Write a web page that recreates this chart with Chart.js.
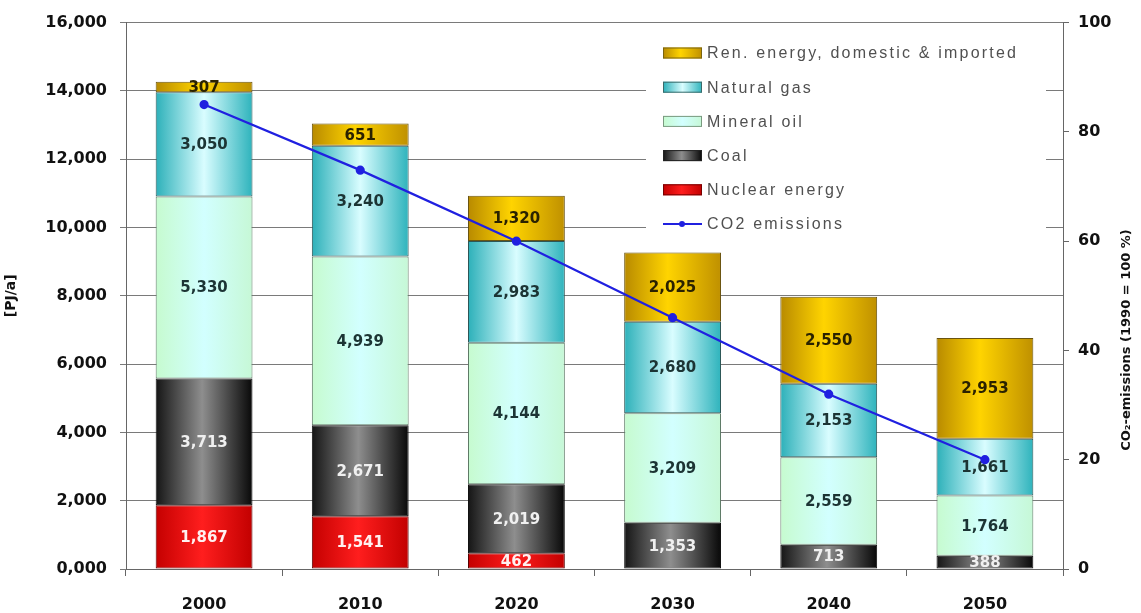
<!DOCTYPE html>
<html>
<head>
<meta charset="utf-8">
<title>Primary energy and CO2 emissions</title>
<script src="https://cdn.jsdelivr.net/npm/chart.js@4.4.0/dist/chart.umd.min.js"></script>
<style>
  html, body { margin: 0; padding: 0; background: #fff; }
  #wrap { width: 1141px; height: 613px; }
</style>
</head>
<body>
<div id="wrap"><canvas id="energyChart" width="1141" height="613"></canvas></div>
<script>
// --- Data ---
const years = ['2000', '2010', '2020', '2030', '2040', '2050'];
const nuclear = [1867, 1541, 462, 0, 0, 0];
const coal = [3713, 2671, 2019, 1353, 713, 388];
const mineralOil = [5330, 4939, 4144, 3209, 2559, 1764];
const naturalGas = [3050, 3240, 2983, 2680, 2153, 1661];
const renewables = [307, 651, 1320, 2025, 2550, 2953];
const co2 = [85, 73, 60, 46, 32, 20];

const leftTicks = ['0,000', '2,000', '4,000', '6,000', '8,000', '10,000', '12,000', '14,000', '16,000'];
const rightTicks = ['0', '20', '40', '60', '80', '100'];

const BAR_PCT = 0.62;

// --- Colours (horizontal shading per series) ---
const shades = {
  renewables: [[0, '#b88a00'], [0.45, '#ffd400'], [1, '#bf9000']],
  gas: [[0, '#2cb0b9'], [0.5, '#d9fdff'], [1, '#2eb3bc']],
  oil: [[0, '#c6fbcf'], [0.5, '#d2ffff'], [1, '#c6f8d6']],
  coal: [[0, '#151515'], [0.48, '#8e8e8e'], [1, '#080808']],
  nuclear: [[0, '#c40000'], [0.48, '#ff1e1e'], [1, '#c20000']]
};

function makeGradient(ctx, x0, x1, stops) {
  const g = ctx.createLinearGradient(x0, 0, x1, 0);
  stops.forEach(([o, c]) => g.addColorStop(o, c));
  return g;
}

function barFill(stops) {
  return (context) => {
    const chart = context.chart;
    const x = chart.scales.x;
    if (!chart.chartArea || !x || context.dataIndex === undefined) return stops[1][1];
    const cx = x.getPixelForValue(context.dataIndex);
    const w = (x.getPixelForValue(1) - x.getPixelForValue(0)) * BAR_PCT;
    return makeGradient(chart.ctx, cx - w / 2, cx + w / 2, stops);
  };
}

// --- Legend entries ---
const legendItems = [
  { text: 'Ren. energy, domestic & imported', stops: shades.renewables, border: '#7a6410' },
  { text: 'Natural gas', stops: shades.gas, border: '#3a6a6a' },
  { text: 'Mineral oil', stops: shades.oil, border: '#7a9a80' },
  { text: 'Coal', stops: shades.coal, border: '#222' },
  { text: 'Nuclear energy', stops: shades.nuclear, border: '#700' },
  { text: 'CO2 emissions', line: '#2020e0' }
];

// white legend box inside the plot, drawn over the grid
const legendBox = {
  id: 'legendBox',
  beforeDatasetsDraw(chart) {
    const ctx = chart.ctx;
    ctx.save();
    ctx.fillStyle = '#fff';
    ctx.fillRect(646, 33, 400, 208);
    legendItems.forEach((item, i) => {
      const y = 53 + i * 34.2;
      if (item.line) {
        ctx.strokeStyle = item.line;
        ctx.lineWidth = 2;
        ctx.beginPath();
        ctx.moveTo(663, y);
        ctx.lineTo(702, y);
        ctx.stroke();
        ctx.fillStyle = item.line;
        ctx.beginPath();
        ctx.arc(682, y, 3, 0, Math.PI * 2);
        ctx.fill();
      } else {
        ctx.fillStyle = makeGradient(ctx, 663, 702, item.stops);
        ctx.fillRect(663, y - 5.5, 39, 11);
        ctx.strokeStyle = item.border;
        ctx.lineWidth = 1;
        ctx.strokeRect(663.5, y - 5, 38, 10);
      }
      ctx.fillStyle = '#505050';
      ctx.font = '16px "Liberation Sans", Arial, sans-serif';
      ctx.textAlign = 'left';
      ctx.textBaseline = 'middle';
      ctx.letterSpacing = '2.2px';
      ctx.fillText(item.text, 707, y + 1);
      ctx.letterSpacing = '0px';
    });
    ctx.restore();
  }
};

// value printed in the middle of each stacked segment
const segmentLabels = {
  id: 'segmentLabels',
  afterDatasetDraw(chart, args) {
    const ds = chart.data.datasets[args.index];
    if (ds.type === 'line') return;
    const meta = args.meta;
    const ctx = chart.ctx;
    ctx.save();
    ctx.font = 'bold 15px "DejaVu Sans", sans-serif';
    ctx.textAlign = 'center';
    ctx.textBaseline = 'middle';
    ctx.fillStyle = ds.labelColor;
    meta.data.forEach((bar, i) => {
      const v = ds.data[i];
      if (!v) return;
      ctx.fillText(v.toLocaleString('en-US'), bar.x, (bar.y + bar.base) / 2 + 1);
    });
    ctx.restore();
  }
};

// rotated title for the right-hand axis
const rightTitle = {
  id: 'rightTitle',
  afterDraw(chart) {
    const ctx = chart.ctx;
    ctx.save();
    ctx.translate(1127, 340);
    ctx.rotate(-Math.PI / 2);
    ctx.font = 'bold 13px "DejaVu Sans", sans-serif';
    ctx.fillStyle = '#111';
    ctx.textAlign = 'center';
    ctx.textBaseline = 'middle';
    ctx.fillText('CO\u2082-emissions (1990 = 100 %)', 0, 0);
    ctx.restore();
  }
};

function barSet(label, data, stops, border, labelColor) {
  return {
    type: 'bar',
    label,
    data,
    backgroundColor: barFill(stops),
    borderColor: border,
    borderWidth: 1,
    borderSkipped: false,
    labelColor,
    stack: 'energy',
    yAxisID: 'y',
    order: 1,
    categoryPercentage: 1,
    barPercentage: BAR_PCT
  };
}

const tickFont = { family: '"DejaVu Sans", sans-serif', size: 16, weight: 'bold' };

new Chart(document.getElementById('energyChart'), {
  data: {
    labels: years,
    datasets: [
      barSet('Nuclear energy', nuclear, shades.nuclear, '#5a0000', '#fff0f0'),
      barSet('Coal', coal, shades.coal, '#111', '#f0f0f0'),
      barSet('Mineral oil', mineralOil, shades.oil, '#5e7a66', '#1c3434'),
      barSet('Natural gas', naturalGas, shades.gas, '#2c5656', '#1c3434'),
      barSet('Ren. energy, domestic & imported', renewables, shades.renewables, '#6a5410', '#2a2200'),
      {
        type: 'line',
        label: 'CO2 emissions',
        data: co2,
        yAxisID: 'y1',
        borderColor: '#2020e0',
        backgroundColor: '#2020e0',
        borderWidth: 2.2,
        pointRadius: 3.5,
        pointHoverRadius: 3.5,
        tension: 0,
        order: 0
      }
    ]
  },
  options: {
    responsive: false,
    animation: false,
    layout: { padding: { top: 19, right: 0, bottom: 0, left: 0 } },
    plugins: {
      legend: { display: false },
      tooltip: { enabled: false }
    },
    scales: {
      x: {
        stacked: true,
        afterFit: (s) => { s.height = 44; },
        grid: { offset: true, drawOnChartArea: false, drawTicks: true, tickLength: 7, color: '#666' },
        border: { color: '#666', width: 1 },
        ticks: { color: '#111', font: tickFont, padding: 19 }
      },
      y: {
        stacked: true,
        position: 'left',
        min: 0,
        max: 16000,
        afterFit: (s) => { s.width = 126; },
        grid: { color: '#7a7a7a', lineWidth: 1, tickLength: 6 },
        border: { color: '#666', width: 1 },
        ticks: {
          stepSize: 2000,
          color: '#111',
          font: tickFont,
          padding: 13,
          callback: (v, i) => leftTicks[i]
        },
        title: {
          display: true,
          text: '[PJ/a]',
          color: '#111',
          font: { family: '"DejaVu Sans", sans-serif', size: 14, weight: 'bold' },
          padding: { top: 3, bottom: 0 }
        }
      },
      y1: {
        position: 'right',
        min: 0,
        max: 100,
        afterFit: (s) => { s.width = 78; },
        grid: { drawOnChartArea: false, tickLength: 6, color: '#666' },
        border: { color: '#666', width: 1 },
        ticks: {
          stepSize: 20,
          color: '#111',
          font: tickFont,
          padding: 9,
          callback: (v, i) => rightTicks[i]
        }
      }
    }
  },
  plugins: [legendBox, segmentLabels, rightTitle]
});
</script>
</body>
</html>
